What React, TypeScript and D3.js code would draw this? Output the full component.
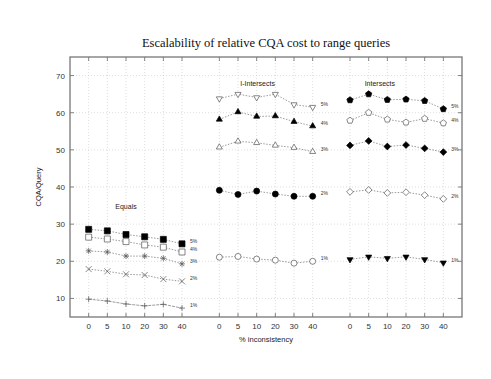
import * as d3 from "d3";

const W = 491;
const H = 379;
const margin = { top: 57, right: 29, bottom: 62, left: 70 };

// % inconsistency ticks, repeated for every panel
const inconsistency = [0, 5, 10, 20, 30, 40];
const panelNames = ["Equals", "I-Intersects", "Intersects"];
const seriesNames = ["5%", "4%", "3%", "2%", "1%"];

// Equals
const equals5 = [28.6, 28.2, 27.2, 26.6, 25.9, 24.7];
const equals4 = [26.5, 26.0, 25.3, 24.4, 23.8, 22.5];
const equals3 = [22.8, 22.5, 21.4, 21.4, 20.8, 19.3];
const equals2 = [17.9, 17.3, 16.5, 16.3, 15.2, 14.6];
const equals1 = [9.8, 9.3, 8.5, 8.0, 8.4, 7.4];

// I-Intersects
const iinter5 = [63.8, 65.0, 64.1, 65.0, 62.2, 61.5];
const iinter4 = [58.2, 60.2, 59.0, 59.1, 57.6, 56.4];
const iinter3 = [50.7, 52.3, 51.9, 51.2, 50.6, 49.5];
const iinter2 = [39.1, 38.0, 38.9, 38.1, 37.5, 37.5];
const iinter1 = [21.1, 21.3, 20.6, 20.3, 19.5, 20.0];

// Intersects
const inter5 = [63.4, 65.0, 63.5, 63.6, 63.2, 61.0];
const inter4 = [57.9, 60.0, 58.2, 57.4, 58.4, 57.2];
const inter3 = [51.2, 52.4, 50.9, 51.3, 50.4, 49.4];
const inter2 = [38.7, 39.2, 38.4, 38.6, 37.8, 36.8];
const inter1 = [20.5, 21.2, 20.8, 21.2, 20.5, 19.6];

const yTicks = [10, 20, 30, 40, 50, 60, 70];

type Marker =
  | "squareFill" | "square" | "star" | "cross" | "plus"
  | "triDown" | "triUpFill" | "triUp" | "circleFill" | "circle"
  | "pentFill" | "pent" | "diamondFill" | "diamond" | "triDownFill";

const panelSeries = [
  [equals5, equals4, equals3, equals2, equals1],
  [iinter5, iinter4, iinter3, iinter2, iinter1],
  [inter5, inter4, inter3, inter2, inter1],
];
const panelMarkers: Marker[][] = [
  ["squareFill", "square", "star", "cross", "plus"],
  ["triDown", "triUpFill", "triUp", "circleFill", "circle"],
  ["pentFill", "pent", "diamondFill", "diamond", "triDownFill"],
];
// where each panel title sits, in slot / value units
const panelLabelPos = [
  { slot: 3.0, value: 34.1 },
  { slot: 10.05, value: 67.2 },
  { slot: 16.6, value: 67.2 },
];

const x = d3.scaleLinear().domain([0, 21]).range([margin.left, W - margin.right]);
const y = d3.scaleLinear().domain([5, 75]).range([H - margin.bottom, margin.top]);

const slotOf = (panel: number, i: number) => panel * 7 + i + 1;

function polygon(n: number, r: number, rot: number) {
  const pts = d3.range(n).map((k) => {
    const a = rot + (k * 2 * Math.PI) / n;
    return [r * Math.sin(a), -r * Math.cos(a)];
  });
  return "M" + pts.map((p) => p[0].toFixed(2) + "," + p[1].toFixed(2)).join("L") + "Z";
}

function markerPath(m: Marker) {
  const r = 3;
  switch (m) {
    case "squareFill":
    case "square":
      return `M${-r},${-r}H${r}V${r}H${-r}Z`;
    case "plus":
      return `M${-r},0H${r}M0,${-r}V${r}`;
    case "cross":
      return `M${-r},${-r}L${r},${r}M${-r},${r}L${r},${-r}`;
    case "star":
      return `M${-r},0H${r}M0,${-r}V${r}M${-r * 0.75},${-r * 0.75}L${r * 0.75},${r * 0.75}M${-r * 0.75},${r * 0.75}L${r * 0.75},${-r * 0.75}`;
    case "triUp":
    case "triUpFill":
      return polygon(3, 3.5, 0);
    case "triDown":
    case "triDownFill":
      return polygon(3, 3.5, Math.PI);
    case "circle":
    case "circleFill":
      return `M${r},0A${r},${r} 0 1,1 ${-r},0A${r},${r} 0 1,1 ${r},0Z`;
    case "pent":
    case "pentFill":
      return polygon(5, 3.3, 0);
    case "diamond":
    case "diamondFill":
      return polygon(4, 3.4, 0);
  }
}

const isFilled = (m: Marker) => m.endsWith("Fill");
const isOpenLine = (m: Marker) => m === "plus" || m === "cross" || m === "star";

export default function App() {
  const innerTop = margin.top;
  const innerBottom = H - margin.bottom;
  const innerLeft = margin.left;
  const innerRight = W - margin.right;
  const line = d3
    .line<[number, number]>()
    .x((d) => d[0])
    .y((d) => d[1]);
  const allSlots = panelNames.flatMap((_, p) => inconsistency.map((__, i) => slotOf(p, i)));

  return (
    <svg
      width={W}
      height={H}
      style={{ position: "absolute", left: 0, top: 0, background: "#fff" }}
      fontFamily="Liberation Sans, Arial, sans-serif"
    >
      <text
        x={(innerLeft + innerRight) / 2}
        y={47}
        textAnchor="middle"
        fontFamily="Liberation Serif, Times New Roman, serif"
        fontSize={12.5}
        fill="#111"
      >
        Escalability of relative CQA cost to range queries
      </text>

      {/* grid */}
      <g stroke="#c8c8c8" strokeWidth={0.6} strokeDasharray="1,2">
        {allSlots.map((s) => (
          <line key={"gx" + s} x1={x(s)} x2={x(s)} y1={innerTop} y2={innerBottom} />
        ))}
        {yTicks.map((t) => (
          <line key={"gy" + t} x1={innerLeft} x2={innerRight} y1={y(t)} y2={y(t)} />
        ))}
      </g>

      {/* ticks on all sides */}
      <g stroke="#666" strokeWidth={0.8}>
        {allSlots.map((s) => (
          <g key={"tx" + s}>
            <line x1={x(s)} x2={x(s)} y1={innerBottom} y2={innerBottom - 4} />
            <line x1={x(s)} x2={x(s)} y1={innerTop} y2={innerTop + 4} />
          </g>
        ))}
        {yTicks.map((t) => (
          <g key={"ty" + t}>
            <line x1={innerLeft} x2={innerLeft + 4} y1={y(t)} y2={y(t)} />
            <line x1={innerRight} x2={innerRight - 4} y1={y(t)} y2={y(t)} />
          </g>
        ))}
      </g>

      <rect
        x={innerLeft}
        y={innerTop}
        width={innerRight - innerLeft}
        height={innerBottom - innerTop}
        fill="none"
        stroke="#777"
        strokeWidth={1.3}
      />

      {/* tick labels */}
      <g fontSize={8} fill="#333">
        {yTicks.map((t) => (
          <text key={"ly" + t} x={innerLeft - 5} y={y(t) + 3} textAnchor="end">
            {t}
          </text>
        ))}
        {panelNames.map((_, p) =>
          inconsistency.map((v, i) => (
            <text key={"lx" + p + i} x={x(slotOf(p, i))} y={329} textAnchor="middle">
              {v}
            </text>
          ))
        )}
      </g>

      <text x={(innerLeft + innerRight) / 2} y={342} textAnchor="middle" fontSize={7.5} fill="#222">
        % inconsistency
      </text>
      <text
        transform={`translate(41,${(innerTop + innerBottom) / 2}) rotate(-90)`}
        textAnchor="middle"
        fontSize={7.5}
        fill="#222"
      >
        CQA/Query
      </text>

      {/* panels */}
      {panelNames.map((name, p) => (
        <g key={name}>
          <text
            x={x(panelLabelPos[p].slot)}
            y={y(panelLabelPos[p].value)}
            textAnchor="middle"
            fontSize={7}
            fill="#222"
          >
            {name}
          </text>
          {panelSeries[p].map((vals, si) => {
            const pts = vals.map((v, i) => [x(slotOf(p, i)), y(v)] as [number, number]);
            const m = panelMarkers[p][si];
            const last = pts[pts.length - 1];
            return (
              <g key={name + si}>
                <path
                  d={line(pts) || ""}
                  fill="none"
                  stroke="#555"
                  strokeWidth={0.6}
                  strokeDasharray={si === 4 && p === 0 ? "3,1" : "1.5,1.5"}
                />
                {pts.map((pt, i) => (
                  <path
                    key={i}
                    transform={`translate(${pt[0]},${pt[1]})`}
                    d={markerPath(m)}
                    fill={isFilled(m) ? "#000" : isOpenLine(m) ? "none" : "#fff"}
                    stroke={isFilled(m) ? "#000" : "#555"}
                    strokeWidth={0.7}
                  />
                ))}
                <text x={last[0] + 8} y={last[1] - 1} fontSize={5} fill="#333">
                  {seriesNames[si]}
                </text>
              </g>
            );
          })}
        </g>
      ))}
    </svg>
  );
}
